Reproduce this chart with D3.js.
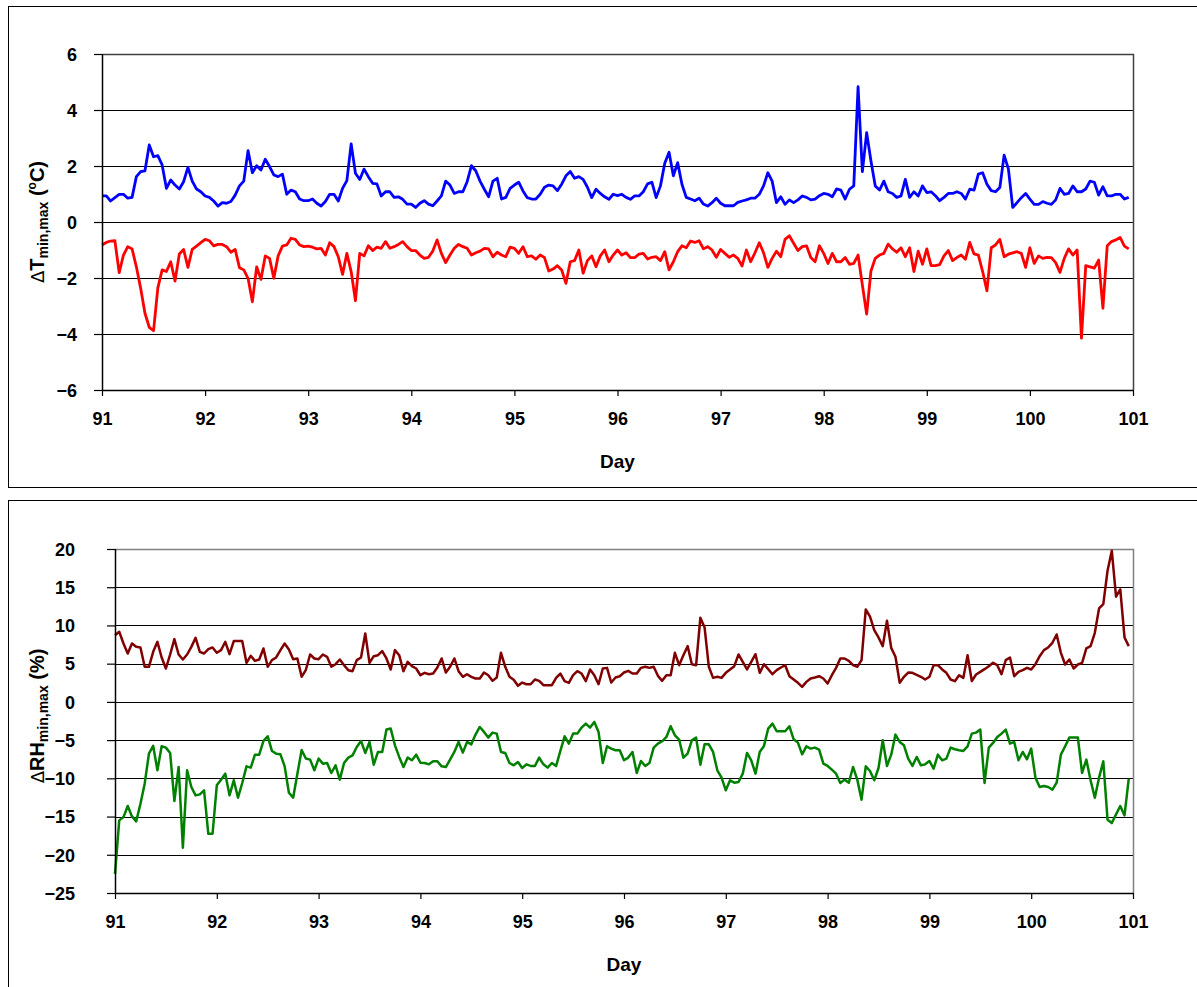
<!DOCTYPE html>
<html><head><meta charset="utf-8">
<script src="https://cdn.jsdelivr.net/npm/d3@7"></script>
<style>
body{margin:0;background:#fff}
svg{display:block}
text{font-family:"Liberation Sans",Arial,sans-serif;font-weight:bold;fill:#000}
</style>
</head><body>
<svg id="chart" width="1197" height="987"></svg>
<script>
// ---- data (hourly samples starting at day 91) ----
const startDay = 91;
const samplesPerDay = 24;
const dayTicks = [91,92,93,94,95,96,97,98,99,100,101];
const tTicks = [-6,-4,-2,0,2,4,6];
const rhTicks = [-25,-20,-15,-10,-5,0,5,10,15,20];

const dTmax = [0.93,0.93,0.75,0.87,0.99,0.99,0.85,0.88,1.62,1.8,1.83,2.75,2.33,2.37,2.04,1.2,1.5,1.32,1.18,1.44,1.95,1.46,1.18,1.08,0.93,0.88,0.75,0.57,0.69,0.67,0.73,0.96,1.29,1.46,2.55,1.76,2.01,1.86,2.24,1.98,1.68,1.62,1.71,0.99,1.14,1.08,
0.82,0.76,0.76,0.82,0.67,0.57,0.73,0.99,0.99,0.75,1.2,1.48,2.79,1.74,1.52,1.89,1.62,1.38,1.36,0.93,1.08,1.08,0.88,0.9,0.81,0.64,0.64,0.52,0.67,0.76,0.64,0.58,0.75,0.93,1.46,1.32,1.02,1.08,1.08,1.44,2.01,1.83,1.46,1.17,0.9,1.46,1.56,0.82,0.88,
1.2,1.32,1.42,1.11,0.87,0.82,0.82,0.99,1.24,1.32,1.29,1.12,1.35,1.65,1.8,1.56,1.62,1.52,1.24,0.87,1.17,1.02,0.9,0.81,0.99,0.94,0.99,0.88,0.81,0.93,0.93,1.08,1.36,1.42,0.87,1.29,2.1,2.49,1.65,2.12,1.35,0.88,0.82,0.76,0.85,0.64,0.57,0.69,0.85,
0.67,0.58,0.58,0.58,0.7,0.75,0.79,0.85,0.85,0.99,1.29,1.76,1.46,0.69,0.9,0.63,0.79,0.69,0.79,0.93,0.88,0.79,0.82,0.94,1.02,0.99,0.9,1.18,1.14,0.82,1.17,1.29,4.83,1.8,3.19,2.18,1.29,1.14,1.46,1.08,1.02,0.88,0.93,1.52,0.88,1.08,0.93,1.29,1.05,
1.08,0.94,0.76,0.88,1.02,1.02,1.08,1.02,0.82,1.17,1.14,1.71,1.76,1.35,1.12,1.08,1.23,2.39,1.89,0.52,0.69,0.87,1.02,0.82,0.63,0.63,0.73,0.67,0.63,0.79,1.2,0.99,1.02,1.29,1.08,1.08,1.18,1.46,1.42,0.96,1.26,0.93,0.93,0.99,0.99,0.82,0.88];

const dTmin = [-0.82,-0.73,-0.68,-0.67,-1.81,-1.18,-0.88,-0.96,-1.6,-2.37,-3.26,-3.76,-3.88,-2.35,-1.71,-1.77,-1.42,-2.11,-1.14,-0.98,-1.62,-0.98,-0.86,-0.74,-0.62,-0.67,-0.85,-0.8,-0.8,-0.88,-1.08,-0.98,-1.63,-1.71,-2.01,-2.85,-1.6,-2.05,-1.21,-1.3,-2.01,-1.21,-0.86,-0.82,-0.58,-0.62,
-0.82,-0.88,-0.86,-0.9,-0.96,-0.94,-1.18,-0.74,-0.88,-1.24,-1.87,-1.12,-1.77,-2.81,-1.12,-1.21,-0.85,-1.02,-0.9,-0.94,-0.7,-0.94,-0.88,-0.8,-0.7,-0.88,-1.02,-1.02,-1.18,-1.3,-1.26,-1.04,-0.64,-1.12,-1.45,-1.18,-0.94,-0.8,-0.88,-0.94,-1.18,-1.1,-1.04,-0.94,-0.96,-1.24,-1.08,-1.18,-1.24,
-0.9,-0.94,-1.12,-0.88,-1.24,-1.21,-1.33,-1.18,-1.27,-1.75,-1.68,-1.56,-1.71,-2.19,-1.42,-1.38,-1.0,-1.83,-1.38,-1.21,-1.6,-1.21,-1.0,-1.42,-1.18,-1.0,-1.18,-1.1,-1.27,-1.27,-1.15,-1.12,-1.32,-1.26,-1.24,-1.38,-1.06,-1.71,-1.42,-1.06,-0.85,-0.92,-0.68,-0.73,-0.67,-0.96,-0.88,-1.0,-1.26,
-0.98,-1.12,-1.26,-1.18,-1.3,-1.57,-1.0,-1.42,-1.1,-0.74,-1.1,-1.62,-1.3,-1.04,-1.24,-0.62,-0.49,-0.76,-1.02,-0.88,-0.85,-1.27,-1.42,-0.85,-1.12,-1.48,-1.12,-1.42,-1.42,-1.27,-1.51,-1.48,-1.18,-2.25,-3.29,-1.75,-1.3,-1.18,-1.12,-0.79,-0.96,-1.08,-0.92,-1.24,-0.92,-1.77,-1.04,-1.51,-0.96,
-1.56,-1.56,-1.52,-1.21,-1.02,-1.38,-1.27,-1.18,-1.33,-0.73,-1.14,-1.18,-1.77,-2.46,-0.92,-0.82,-0.62,-1.24,-1.15,-1.1,-1.06,-1.12,-1.62,-0.92,-1.48,-1.21,-1.3,-1.26,-1.27,-1.45,-1.8,-1.3,-0.96,-1.18,-1.0,-4.15,-1.56,-1.6,-1.65,-1.36,-3.08,-0.85,-0.7,-0.64,-0.55,-0.86,-0.96];

const dRHmax = [8.73,9.17,7.64,6.33,7.64,7.2,7.12,4.59,4.59,6.55,7.86,5.81,4.37,6.2,8.21,6.2,5.55,6.2,7.2,8.38,6.55,6.33,6.9,7.12,6.42,6.77,7.86,6.24,7.95,7.95,7.95,5.11,6.03,5.37,5.55,6.99,4.59,5.46,5.81,6.77,7.64,6.86,5.59,5.68,3.28,4.2,
6.2,5.68,5.59,6.2,5.9,4.59,4.93,5.55,4.8,4.15,4.02,5.46,5.81,8.95,5.11,5.98,6.11,6.64,5.68,4.24,6.77,6.11,4.02,5.24,4.67,4.37,3.49,3.8,3.62,3.71,4.5,5.68,3.84,4.59,5.68,4.02,3.28,3.62,3.28,3.06,3.06,3.84,3.49,2.75,3.19,6.42,4.59,3.3,2.9,
2.1,2.53,2.31,2.31,2.93,2.75,2.18,2.18,2.18,3.14,3.71,2.71,2.49,3.49,4.02,3.71,2.71,4.24,3.49,2.31,4.37,4.45,2.53,3.19,3.36,3.84,4.06,3.71,3.71,4.45,4.59,4.45,4.59,3.41,2.75,3.49,3.49,6.42,4.8,6.11,7.29,4.93,4.8,11.0,9.74,4.59,3.14,3.28,
3.14,3.8,4.24,4.67,6.2,5.24,4.24,5.24,6.24,3.8,4.93,4.28,3.62,4.15,4.5,4.8,3.36,2.93,2.49,1.97,2.62,3.06,3.19,3.36,3.06,2.4,3.49,4.45,5.68,5.68,5.37,4.8,4.59,5.46,12.1,11.14,9.39,8.43,7.29,10.61,7.07,5.9,2.49,3.28,3.84,3.8,3.54,3.28,2.93,3.28,
4.8,4.8,4.24,3.8,2.93,2.71,3.49,3.14,6.11,2.71,3.58,3.93,4.28,4.67,5.11,4.8,3.62,5.46,5.81,3.36,3.93,4.15,4.45,4.24,4.93,5.98,6.77,7.12,7.73,8.82,6.42,4.89,5.55,4.37,4.89,5.11,6.99,7.29,9.04,12.23,12.79,17.16,19.78,13.76,14.72,8.43,7.29];

const dRHmin = [-22.5,-15.5,-15.07,-13.62,-14.98,-15.63,-13.32,-10.7,-6.77,-5.76,-8.95,-5.81,-5.98,-6.68,-12.97,-8.52,-19.08,-8.95,-11.14,-12.23,-12.1,-11.57,-17.25,-17.25,-10.92,-10.17,-9.39,-12.23,-10.26,-12.53,-10.61,-8.43,-8.6,-6.9,-6.9,-5.11,-4.5,-6.42,-6.77,-6.86,-8.43,-11.88,-12.53,-9.39,-6.3,-7.4,
-7.55,-8.95,-7.42,-8.08,-7.99,-9.3,-8.3,-10.17,-7.99,-7.29,-6.99,-5.9,-5.11,-6.68,-5.24,-8.21,-6.55,-6.55,-3.62,-3.49,-5.68,-7.2,-8.52,-7.29,-7.64,-6.9,-7.95,-7.99,-8.17,-7.77,-7.77,-8.43,-8.52,-7.55,-6.55,-5.24,-6.64,-5.24,-5.55,-4.28,-3.28,-3.93,-4.67,-4.02,-4.15,-6.55,-6.68,-7.99,-8.3,
-7.86,-8.65,-8.17,-8.38,-8.38,-7.29,-8.17,-8.6,-7.99,-8.38,-6.4,-4.5,-5.46,-4.15,-4.15,-3.36,-2.84,-3.36,-2.62,-3.93,-7.99,-5.81,-6.11,-6.33,-6.33,-7.64,-7.29,-6.55,-9.3,-7.73,-8.38,-7.99,-5.98,-5.46,-5.15,-4.59,-3.19,-4.37,-4.93,-7.29,-6.77,-5.02,-4.67,-8.21,-5.55,-5.55,-6.55,-8.95,
-9.9,-11.57,-10.26,-10.57,-10.48,-9.39,-6.68,-7.64,-9.39,-6.55,-5.76,-3.49,-2.84,-3.84,-3.84,-3.84,-3.19,-4.89,-5.33,-6.86,-5.81,-6.11,-5.98,-6.24,-8.08,-8.38,-8.86,-9.39,-10.61,-10.17,-10.57,-8.52,-10.17,-12.79,-8.43,-9.04,-10.26,-8.65,-5.02,-8.38,-6.9,-4.28,-5.24,-5.68,-7.42,-8.38,-7.2,-8.3,-8.17,-7.73,
-8.73,-6.9,-7.64,-7.42,-5.98,-6.2,-6.33,-6.42,-5.81,-4.15,-4.02,-3.62,-10.61,-5.98,-5.37,-4.59,-4.15,-3.62,-5.46,-5.24,-7.64,-6.55,-7.51,-6.11,-9.91,-11.14,-11.0,-11.14,-11.48,-10.57,-6.9,-5.81,-4.67,-4.67,-4.67,-9.3,-7.55,-10.26,-12.53,-9.91,-7.77,-15.41,-15.85,-14.72,-13.62,-14.85,-10.04];

// ---- drawing ----
const svg = d3.select("#chart");
const dayOf = i => startDay + i / samplesPerDay;
const FONT = "Liberation Sans, Arial, sans-serif";

function drawPanel(cfg) {
  const g = svg.append("g");
  g.append("rect").attr("x", cfg.frame[0]).attr("y", cfg.frame[1])
    .attr("width", cfg.frame[2]).attr("height", cfg.frame[3])
    .attr("fill", "none").attr("stroke", "#000").attr("stroke-width", 1);

  const x = d3.scaleLinear().domain([dayTicks[0], dayTicks[dayTicks.length - 1]]).range([cfg.left, cfg.right]);
  const y = d3.scaleLinear().domain(cfg.domain).range([cfg.bottom, cfg.top]);
  const ticks = cfg.ticks;

  // gridlines
  g.append("g").selectAll("line").data(ticks.slice(1, -1)).join("line")
    .attr("x1", cfg.left).attr("x2", cfg.right)
    .attr("y1", d => Math.round(y(d)) + 0.5).attr("y2", d => Math.round(y(d)) + 0.5)
    .attr("stroke", "#000").attr("stroke-width", 1.2);
  // plot-area border (top & right)
  g.append("path")
    .attr("d", `M${cfg.left},${Math.round(y(cfg.domain[1])) + 0.5}H${cfg.right + 0.5}V${cfg.bottom}`)
    .attr("fill", "none").attr("stroke", cfg.topColor).attr("stroke-width", 1.5);

  // series
  const line = d3.line().x((d, i) => x(dayOf(i))).y(d => y(d));
  cfg.series.forEach(s => {
    g.append("path").datum(s.values).attr("d", line)
      .attr("fill", "none").attr("stroke", s.color).attr("stroke-width", s.width)
      .attr("stroke-linejoin", "round");
  });

  // y axis
  const ya = g.append("g").attr("transform", `translate(${cfg.left},0)`)
    .call(d3.axisLeft(y).tickValues(ticks).tickSize(8).tickFormat(d3.format("d")));
  ya.select(".domain").attr("stroke", "#000").attr("stroke-width", 1.5).attr("d", `M0.5,${cfg.top}V${cfg.bottom}`);
  ya.selectAll(".tick line").attr("stroke", "#000").attr("stroke-width", 1.2);
  ya.selectAll(".tick text").attr("x", -cfg.yLabelOffset).attr("dy", "0.35em")
    .attr("text-anchor", "end").attr("font-size", 18).attr("font-weight", "bold")
    .attr("font-family", FONT).attr("fill", "#000");

  // x axis
  const xa = g.append("g").attr("transform", `translate(0,${cfg.bottom})`)
    .call(d3.axisBottom(x).tickValues(dayTicks).tickSize(6).tickFormat(d3.format("d")));
  xa.select(".domain").attr("stroke", "#000").attr("stroke-width", 1.5).attr("d", `M${cfg.left},0.5H${cfg.right}`);
  xa.selectAll(".tick line").attr("stroke", "#000").attr("stroke-width", 1.2);
  xa.selectAll(".tick text").attr("y", cfg.xLabelOffset).attr("dy", "0.71em")
    .attr("font-size", 18).attr("font-weight", "bold")
    .attr("font-family", FONT).attr("fill", "#000");

  // x title
  g.append("text").attr("x", (cfg.left + cfg.right) / 2).attr("y", cfg.xTitleY)
    .attr("text-anchor", "middle").attr("font-size", 19).text("Day");

  // y title
  const t = g.append("text").attr("transform", `translate(${cfg.yTitleX},${cfg.yTitleY}) rotate(-90)`)
    .attr("text-anchor", "middle").attr("font-size", 20);
  t.append("tspan").attr("font-family", "DejaVu Sans, sans-serif").attr("font-weight", "normal").attr("font-size", 18).text("\u0394");
  t.append("tspan").text(cfg.yVar);
  t.append("tspan").attr("font-size", 14).attr("baseline-shift", "-4").text("min,max");
  t.append("tspan").text(cfg.yUnitPre);
  if (cfg.yUnitSup) t.append("tspan").attr("font-size", 12).attr("baseline-shift", "8").text(cfg.yUnitSup);
  t.append("tspan").text(cfg.yUnitPost);
}

drawPanel({
  frame: [8.5, 6.5, 1190, 481],
  left: 102, right: 1133, top: 54, bottom: 390,
  domain: [-6, 6], ticks: tTicks, yLabelOffset: 25, xLabelOffset: 22, topColor: "#404040",
  xTitleY: 468, yTitleX: 44, yTitleY: 222,
  yVar: "T", yUnitPre: " (", yUnitSup: "o", yUnitPost: "C)",
  series: [
    {values: dTmax, color: "#0000FF", width: 2.8},
    {values: dTmin, color: "#FF0000", width: 2.8}
  ]
});

drawPanel({
  frame: [8.5, 500.5, 1190, 490],
  left: 115, right: 1133, top: 549, bottom: 893,
  domain: [-25, 20], ticks: rhTicks, yLabelOffset: 40, xLabelOffset: 22, topColor: "#808080",
  xTitleY: 971, yTitleX: 44, yTitleY: 716,
  yVar: "RH", yUnitPre: " (%)", yUnitSup: null, yUnitPost: "",
  series: [
    {values: dRHmax, color: "#800000", width: 2.5},
    {values: dRHmin, color: "#008000", width: 2.5}
  ]
});
</script>
</body></html>
